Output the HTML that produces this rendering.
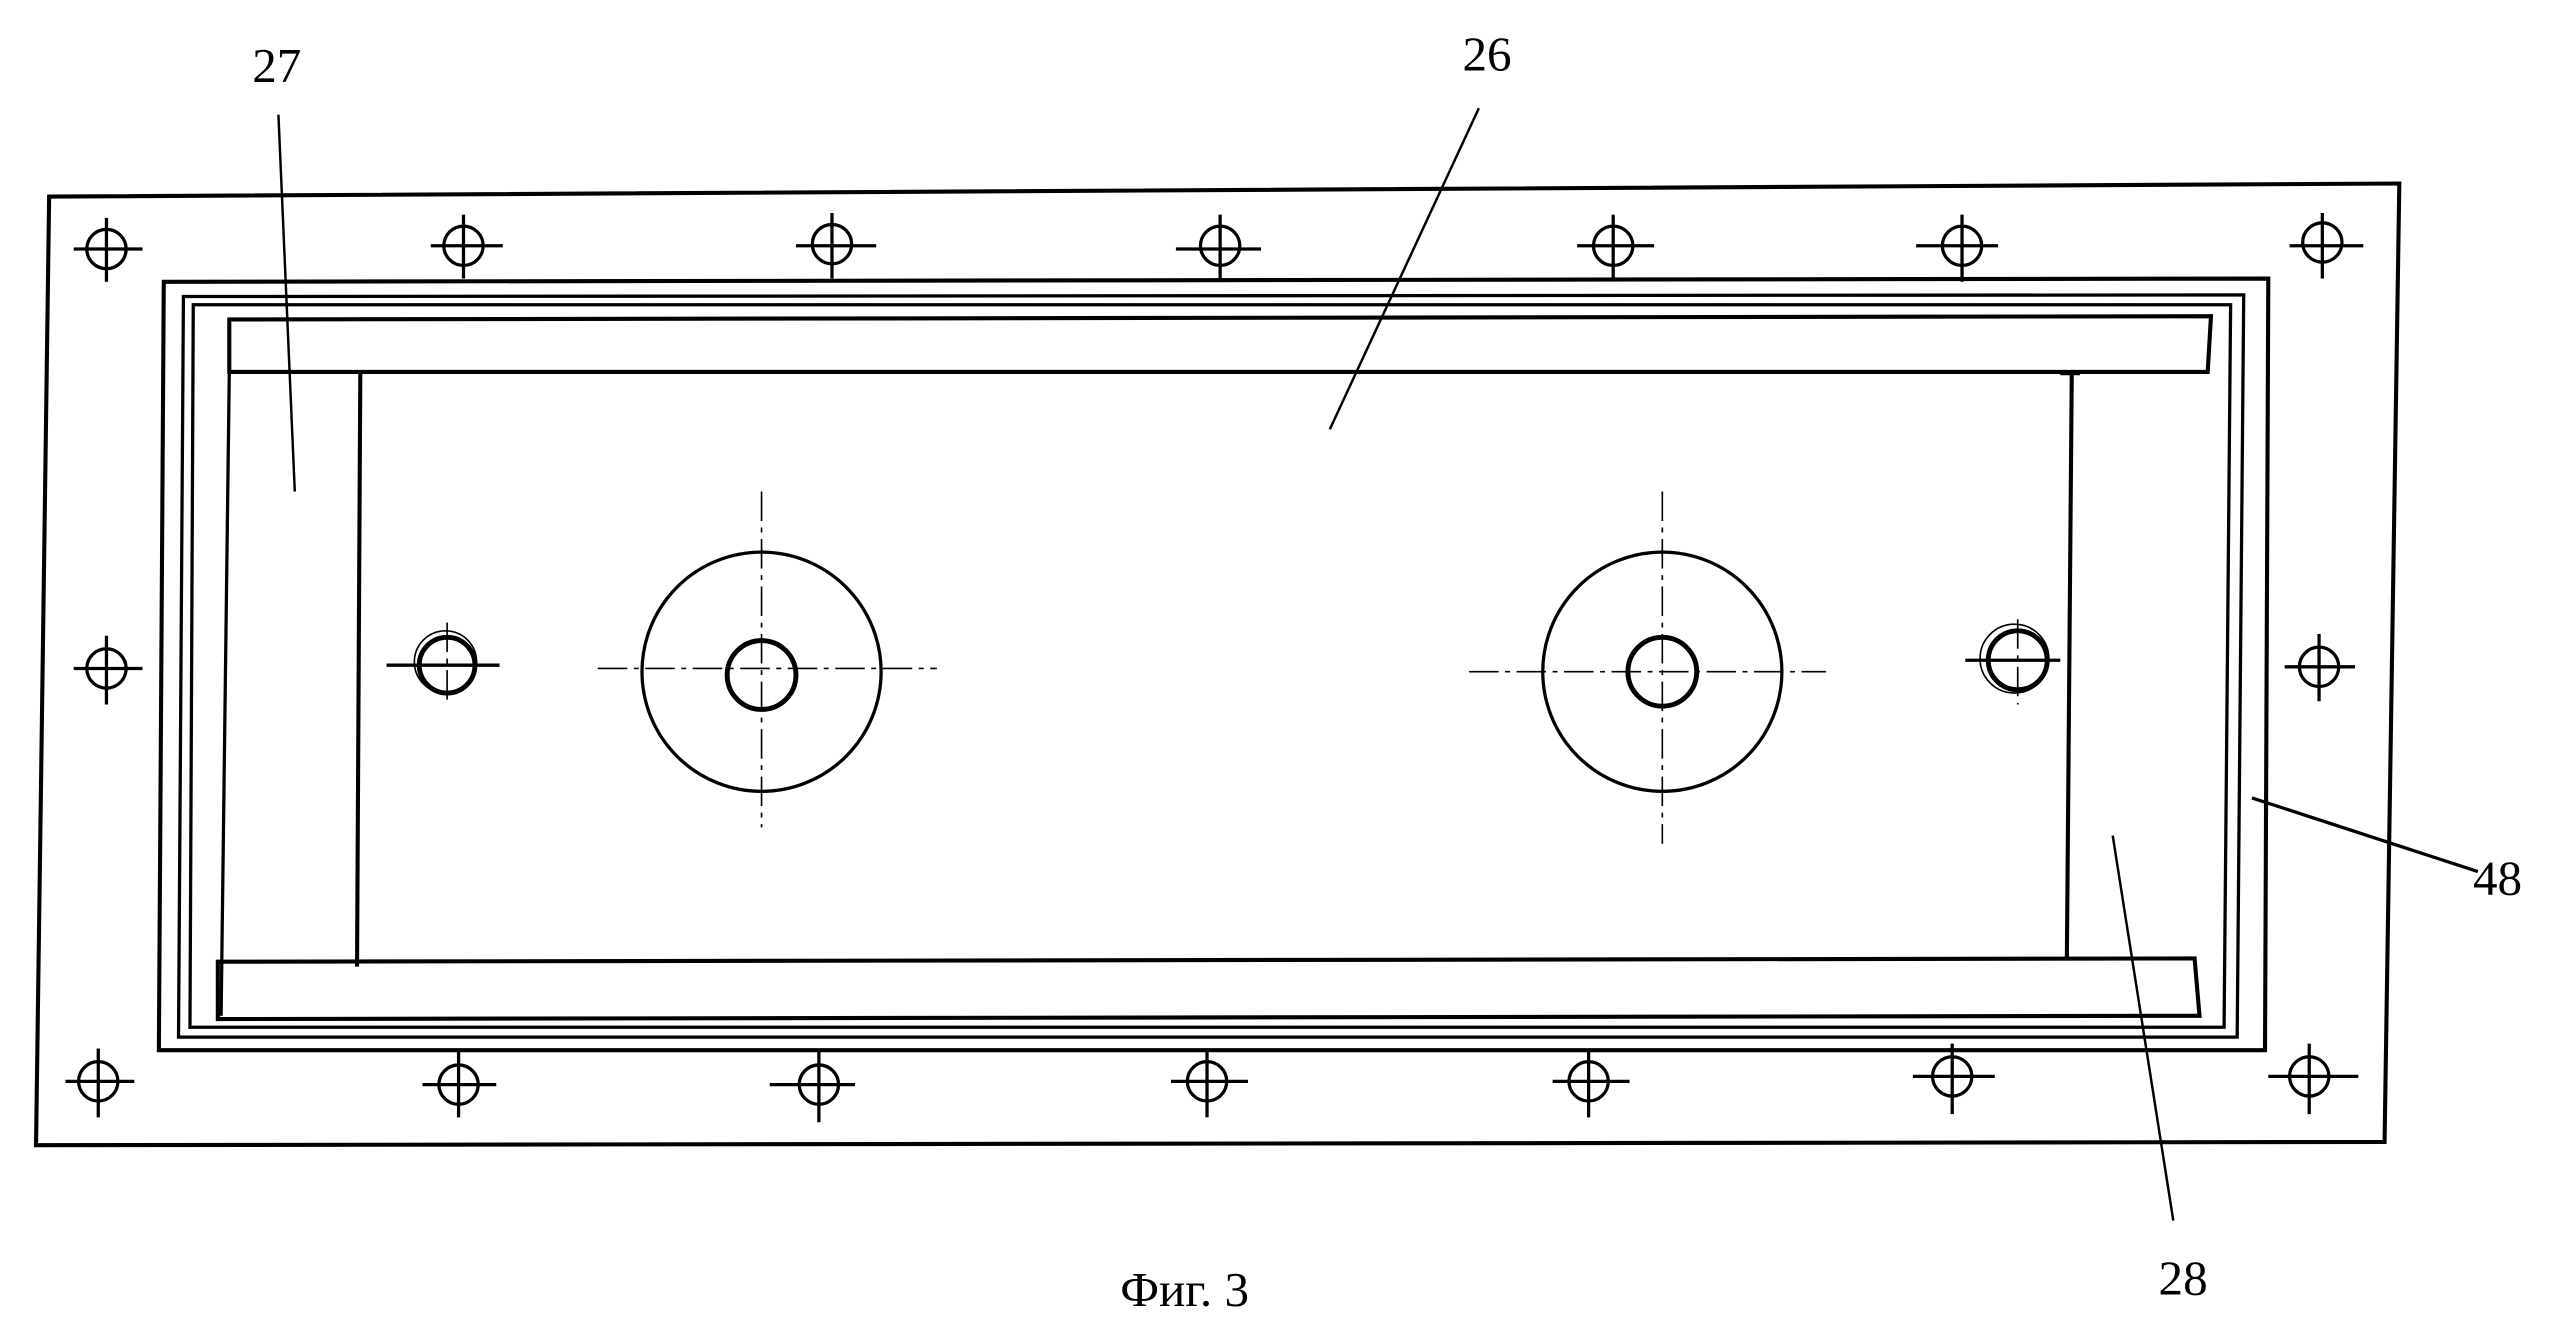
<!DOCTYPE html>
<html><head><meta charset="utf-8"><style>
html,body{margin:0;padding:0;background:#fff}
svg{display:block}
text{font-family:"Liberation Serif",serif;font-size:30px;fill:#000}
</style></head><body>
<svg width="2568" height="1332" viewBox="0 0 1568 813" preserveAspectRatio="none" xmlns="http://www.w3.org/2000/svg">
<g fill="none" stroke="#000" stroke-width="2">
<polygon points="30,120 1465,112 1456,697 22,699" stroke-width="2.5"/>
<polygon points="100,172 1385,170 1383,641 97,641" stroke-width="2.5"/>
<polygon points="112,181 1370,180 1366,633 109,633"/>
<polygon points="118,186 1362,186 1358,627 116,627"/>
<polygon points="140,195 1350,193 1348,227 140,227" stroke-width="2.5"/>
<line x1="140" y1="227" x2="135" y2="620"/>
<polygon points="133,587 1340,585 1343,620 133,622" stroke-width="2.5"/>
<line x1="220" y1="227" x2="218" y2="590" stroke-width="2.5"/>
<line x1="1265" y1="228" x2="1262" y2="586" stroke-width="2.5"/>
<line x1="1258" y1="228" x2="1270" y2="228"/>
<circle cx="465" cy="410" r="73"/>
<circle cx="465" cy="412" r="21" stroke-width="3"/>
<circle cx="1015" cy="410" r="73"/>
<circle cx="1015" cy="410" r="21" stroke-width="3"/>
<circle cx="273" cy="406" r="17" stroke-width="3"/>
<circle cx="272" cy="404" r="19" stroke-width="1"/>
<circle cx="1232" cy="403" r="18" stroke-width="3"/>
<circle cx="1230" cy="402" r="21" stroke-width="1"/>
<g stroke-width="1" stroke-dasharray="18,4,3,4">
<line x1="365" y1="408" x2="572" y2="408"/>
<line x1="465" y1="300" x2="465" y2="505"/>
<line x1="897" y1="410" x2="1115" y2="410"/>
<line x1="1015" y1="300" x2="1015" y2="515"/>
<line x1="273" y1="380" x2="273" y2="430"/>
<line x1="1232" y1="378" x2="1232" y2="430"/>
</g>
<line x1="236" y1="406" x2="305" y2="406"/>
<line x1="1200" y1="403" x2="1258" y2="403"/>
<line x1="170" y1="70" x2="180" y2="300" stroke-width="1.5"/>
<line x1="903" y1="66" x2="812" y2="262" stroke-width="1.5"/>
<line x1="1375" y1="487" x2="1513" y2="532" stroke-width="2"/>
<line x1="1290" y1="510" x2="1327" y2="745" stroke-width="1.5"/>
</g>
<g fill="none" stroke="#000" stroke-width="2">
<g id="b">
</g>
</g>
<g fill="none" stroke="#000" stroke-width="2">
<!-- top bolts -->
<circle cx="65" cy="152" r="12"/><path d="M45 152H87M65 133V172"/>
<circle cx="283" cy="150" r="12"/><path d="M263 150H307M283 131V170"/>
<circle cx="508" cy="149" r="12"/><path d="M486 150H535M508 130V170"/>
<circle cx="745" cy="150" r="12"/><path d="M718 152H770M745 131V172"/>
<circle cx="985" cy="150" r="12"/><path d="M963 150H1010M985 131V170"/>
<circle cx="1198" cy="150" r="12"/><path d="M1170 150H1220M1198 131V172"/>
<circle cx="1418" cy="148" r="12"/><path d="M1398 150H1443M1418 130V170"/>
<!-- side bolts -->
<circle cx="65" cy="408" r="12"/><path d="M45 408H87M65 388V430"/>
<circle cx="1416" cy="407" r="12"/><path d="M1395 407H1438M1416 387V428"/>
<!-- bottom bolts -->
<circle cx="60" cy="660" r="12"/><path d="M40 660H82M60 640V682"/>
<circle cx="280" cy="662" r="12"/><path d="M258 662H303M280 642V682"/>
<circle cx="500" cy="662" r="12"/><path d="M470 662H522M500 642V685"/>
<circle cx="737" cy="660" r="12"/><path d="M715 660H762M737 640V682"/>
<circle cx="970" cy="660" r="12"/><path d="M948 660H995M970 640V682"/>
<circle cx="1192" cy="657" r="12"/><path d="M1168 657H1218M1192 637V680"/>
<circle cx="1410" cy="657" r="12"/><path d="M1385 657H1440M1410 637V680"/>
</g>
<text x="154" y="50">27</text>
<text x="893" y="43">26</text>
<text x="1510" y="546">48</text>
<text x="1318" y="790">28</text>
<text x="684" y="797">Фиг. 3</text>
</svg>
</body></html>
